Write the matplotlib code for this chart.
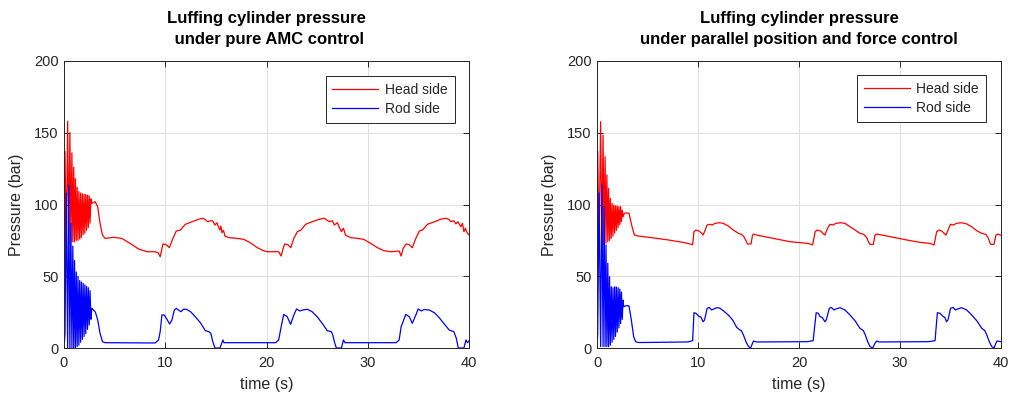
import matplotlib
matplotlib.use("Agg")
import matplotlib.pyplot as plt

plt.rcParams["font.family"] = ["Liberation Sans", "DejaVu Sans"]

# ---- Pure AMC control: head side (time s, pressure bar) ----
amc_head_startup = [
    (0.00, 0), (0.10, 137), (0.22, 70), (0.36, 158), (0.47, 72), (0.58, 150),
    (0.68, 74), (0.78, 136), (0.87, 74), (0.96, 126), (1.04, 74), (1.13, 118),
    (1.21, 75), (1.30, 112), (1.38, 75), (1.47, 109), (1.55, 76), (1.64, 108),
    (1.72, 77), (1.81, 107.5), (1.89, 79), (1.98, 107), (2.06, 80), (2.15, 107),
    (2.23, 82), (2.32, 106.5), (2.40, 84), (2.49, 106), (2.57, 87), (2.66, 104),
]
amc_head_run = [
    (2.74, 100.8), (3.07, 102), (3.33, 98.5), (3.56, 86.9), (3.80, 78.7), (4.06, 76.4),
    (4.90, 77.1), (5.70, 76.4), (6.53, 72.9), (7.36, 69), (8.20, 67.1), (9.00, 67.1),
    (9.30, 66.3), (9.50, 63.6), (9.77, 72.5), (10.1, 72), (10.4, 69.9), (10.76, 76.4),
    (11.09, 81.5), (11.5, 82.2), (11.98, 86.2), (12.64, 88), (13.3, 89.7), (13.7, 90.4),
    (13.9, 89.7), (14.2, 88), (14.5, 88.7), (14.7, 88.5), (14.9, 85.7), (15.1, 87.3),
    (15.25, 84.5), (15.4, 82.2), (15.5, 85), (15.6, 80.4), (15.75, 82), (15.9, 78),
    (16.3, 76.9), (17.1, 76.4), (17.75, 75.7), (18.4, 73.4), (19.1, 69.9), (19.7, 67.8),
    (20.07, 67.1), (20.7, 67.1), (21.2, 67.1), (21.45, 64.1), (21.65, 69.5), (21.8, 72.5),
    (22.1, 72), (22.4, 69.9), (22.7, 76.4), (23.04, 81), (23.4, 82.2), (23.86, 86.2),
    (24.5, 88), (25.2, 89.7), (25.7, 90.4), (25.9, 89.5), (26.2, 88), (26.5, 88.7),
    (26.7, 85.7), (27.0, 87.3), (27.2, 84), (27.4, 81), (27.6, 83.5), (27.8, 78.7),
    (28.3, 76.9), (29.0, 76.4), (29.6, 75.7), (30.3, 72.9), (30.96, 69.9), (31.6, 67.8),
    (32.3, 67.1), (33.1, 67.6), (33.3, 64.1), (33.5, 69.5), (33.8, 72.5), (34.1, 72),
    (34.4, 69.9), (34.75, 76.4), (35.1, 81.5), (35.4, 82.2), (35.9, 86.2), (36.6, 88),
    (37.2, 89.7), (37.7, 90.4), (38.0, 89.7), (38.2, 88), (38.5, 88.7), (38.7, 86.5),
    (38.9, 88), (39.2, 84.5), (39.35, 87), (39.5, 81), (39.65, 83.5), (39.8, 80.5),
    (40.0, 78.7),
]

# ---- Pure AMC control: rod side ----
amc_rod_startup = [
    (0.00, 0), (0.10, 10), (0.22, 108), (0.36, 0), (0.47, 113.6), (0.58, 0),
    (0.68, 87), (0.78, 0), (0.87, 71), (0.96, 0), (1.04, 61), (1.13, 0),
    (1.21, 53), (1.30, 1), (1.38, 50), (1.47, 2), (1.55, 47), (1.64, 4),
    (1.72, 46), (1.81, 6), (1.89, 45), (1.98, 8), (2.06, 44), (2.15, 10),
    (2.23, 43), (2.32, 13), (2.40, 42), (2.49, 16), (2.57, 40), (2.66, 20),
]
amc_rod_run = [
    (2.74, 27.7), (2.90, 26.5), (3.10, 25), (3.33, 19.5), (3.56, 10.2), (3.80, 4.4),
    (4.06, 3.7), (9.00, 3.5), (9.34, 5.6), (9.50, 11.4), (9.67, 23), (9.90, 23),
    (10.17, 20), (10.43, 16.7), (10.66, 19.5), (10.9, 26.5), (11.09, 27.6), (11.3, 26.5),
    (11.55, 25.3), (11.8, 27), (12.08, 27), (12.5, 25.3), (12.97, 21.8), (13.47, 17.6),
    (13.96, 12.1), (14.3, 11.4), (14.5, 10.2), (14.7, 4.4), (14.9, 0), (15.4, 0),
    (15.55, 2.8), (15.7, 5.6), (15.8, 3.7), (16.1, 3.7), (20.9, 3.7), (21.2, 5.6),
    (21.45, 14.9), (21.7, 23.4), (22.05, 21.8), (22.38, 16.5), (22.7, 23), (22.97, 27.2),
    (23.3, 25.8), (23.6, 26.5), (24.03, 27), (24.5, 25.3), (25.0, 21.8), (25.5, 17.2),
    (26.0, 12.1), (26.4, 11.4), (26.55, 9), (26.7, 4.4), (26.9, 0), (27.4, 0),
    (27.6, 5.6), (27.75, 3.7), (32.8, 3.7), (33.1, 5.6), (33.3, 14.9), (33.76, 23.4),
    (34.1, 21.8), (34.4, 17.2), (34.75, 23), (34.98, 27.2), (35.3, 25.8), (35.55, 26.8),
    (36.07, 26.5), (36.6, 24.5), (37.06, 21.1), (37.56, 16.7), (38.05, 12.5), (38.5, 11.4),
    (38.75, 6.7), (38.94, 0), (39.5, 0), (39.7, 5.6), (39.85, 3.7), (40.0, 5),
]

# ---- Parallel position and force control: head side ----
ppf_head_startup = [
    (0.00, 0), (0.07, 137), (0.20, 70), (0.36, 157.7), (0.48, 71.8), (0.60, 148.4),
    (0.70, 72), (0.80, 133.3), (0.89, 73), (0.98, 120.6), (1.07, 74), (1.15, 111.3),
    (1.24, 75), (1.32, 104.3), (1.41, 76.4), (1.49, 100.8), (1.58, 78), (1.66, 99.7),
    (1.75, 80), (1.83, 99), (1.92, 82), (2.00, 99), (2.09, 84), (2.17, 98.5),
    (2.26, 86), (2.34, 98.5), (2.42, 88), (2.50, 96), (2.58, 91.5),
]
ppf_head_run = [
    (2.70, 93.9), (2.93, 94.1), (3.17, 93.9), (3.43, 85.7), (3.70, 78.7), (4.10, 78),
    (5.40, 76.9), (7.06, 75.3), (8.70, 73.4), (9.20, 72.5), (9.47, 72), (9.60, 81),
    (9.80, 82.2), (10.1, 81.5), (10.37, 79.9), (10.5, 78.7), (10.7, 82), (10.9, 85.7),
    (11.2, 86.2), (11.4, 85.7), (11.7, 86.9), (12.1, 87.3), (12.5, 86.9), (13.0, 85),
    (13.5, 82.2), (14.0, 79.9), (14.3, 79.2), (14.55, 77.5), (14.75, 74.8), (14.9, 72.5),
    (15.25, 72.5), (15.4, 78.7), (15.5, 79.4), (15.8, 78.7), (17.46, 76.4), (19.1, 74.1),
    (20.1, 73.4), (20.9, 72.9), (21.35, 71.8), (21.6, 81), (21.8, 82.2), (22.15, 81.5),
    (22.35, 80), (22.57, 78.7), (22.8, 83), (23.07, 86.2), (23.35, 85.7), (23.66, 86.9),
    (24.13, 87.3), (24.55, 86.9), (25.05, 84.5), (25.55, 82.2), (26.04, 79.9), (26.4, 79.2),
    (26.7, 77), (26.87, 74.1), (27.03, 72.2), (27.36, 72.2), (27.52, 78.7), (27.7, 79.4),
    (29.0, 77.6), (30.66, 75.3), (31.98, 73.6), (32.97, 72.9), (33.37, 71.8), (33.63, 81),
    (33.87, 82.2), (34.15, 81.5), (34.35, 80), (34.55, 78.7), (34.8, 83), (35.0, 86.2),
    (35.3, 85.7), (35.6, 86.9), (36.1, 87.3), (36.6, 86.5), (37.1, 84.5), (37.6, 81.7),
    (38.1, 79.9), (38.5, 79.2), (38.75, 76.5), (38.9, 73.4), (39.0, 72.2), (39.3, 72.2),
    (39.5, 78.7), (39.7, 79.4), (40.0, 78.5),
]

# ---- Parallel position and force control: rod side ----
ppf_rod_startup = [
    (0.00, 0), (0.07, 10), (0.20, 108), (0.36, 1), (0.48, 113.6), (0.60, 1),
    (0.70, 98.5), (0.80, 1), (0.89, 71.8), (0.98, 1), (1.07, 59), (1.15, 1),
    (1.24, 49.7), (1.32, 2), (1.41, 42.7), (1.49, 4), (1.58, 42), (1.66, 6),
    (1.75, 42.7), (1.83, 8), (1.92, 42.5), (2.00, 11), (2.09, 42), (2.17, 14),
    (2.26, 41), (2.34, 17), (2.42, 39), (2.50, 20), (2.58, 33.4),
]
ppf_rod_run = [
    (2.64, 28.8), (2.90, 29.5), (3.17, 29.3), (3.40, 19.5), (3.63, 7.9), (3.83, 4.4),
    (4.10, 3.8), (9.00, 4.2), (9.47, 5.1), (9.60, 24.6), (9.80, 24.2), (10.13, 21.8),
    (10.3, 21.5), (10.5, 18.3), (10.65, 19.5), (10.9, 27.6), (11.1, 28.3), (11.35, 26.5),
    (11.6, 27.3), (11.85, 28.1), (12.15, 27.8), (12.5, 26), (13.0, 23), (13.43, 19.5),
    (13.83, 14.4), (14.16, 12.5), (14.3, 12), (14.5, 9), (14.75, 4.4), (15.0, 1),
    (15.2, 0), (15.4, 3.3), (15.5, 4.9), (15.8, 4.2), (20.8, 4.4), (21.4, 5.1),
    (21.7, 24.6), (21.9, 24.2), (22.1, 21.8), (22.3, 21.3), (22.57, 18.3), (22.7, 19.5),
    (23.0, 27.6), (23.2, 28.3), (23.46, 26.5), (23.7, 27.3), (24.06, 28.1), (24.55, 26.5),
    (25.05, 23), (25.55, 19), (26.04, 13.7), (26.37, 12.1), (26.57, 9), (26.8, 4.4),
    (27.03, 1), (27.3, 0), (27.52, 3.3), (27.7, 4.9), (27.9, 4.2), (32.8, 4.4),
    (33.47, 5.1), (33.7, 24.6), (33.95, 24.2), (34.3, 21.8), (34.45, 21.3), (34.6, 18.3),
    (34.75, 19.5), (35.0, 27.6), (35.25, 28.3), (35.5, 26.5), (35.75, 27.3), (36.1, 28.1),
    (36.6, 26.5), (37.1, 23), (37.6, 19), (38.1, 13.7), (38.4, 12.1), (38.6, 9),
    (38.84, 4.4), (39.08, 1), (39.3, 0), (39.5, 3.3), (39.6, 4.9), (40.0, 4.4),
]

titles = [
    "Luffing cylinder pressure\n under pure AMC control",
    "Luffing cylinder pressure\nunder parallel position and force control",
]
series_labels = ["Head side", "Rod side"]
x_ticks = [0, 10, 20, 30, 40]
y_ticks = [0, 50, 100, 150, 200]

INK = "#262626"
GRID = "#dfdfdf"


def unzip(points):
    return [p[0] for p in points], [p[1] for p in points]


fig = plt.figure(figsize=(10.11, 4.05), dpi=100)
W, H = 1011, 405
ax_left = fig.add_axes([64 / W, 1 - 348 / H, 405 / W, 287 / H])
ax_right = fig.add_axes([597 / W, 1 - 348 / H, 404 / W, 287 / H])

panels = [
    (ax_left, amc_head_startup + amc_head_run, amc_rod_startup + amc_rod_run,
     titles[0], (0.965, 0.948)),
    (ax_right, ppf_head_startup + ppf_head_run, ppf_rod_startup + ppf_rod_run,
     titles[1], (0.963, 0.951)),
]

for ax, head, rod, title, legend_anchor in panels:
    ht, hp = unzip(head)
    rt, rp = unzip(rod)
    ax.plot(ht, hp, color=(1, 0, 0), lw=0.9, label=series_labels[0])
    ax.plot(rt, rp, color=(0, 0, 1), lw=0.9, label=series_labels[1])

    ax.set_xlim(0, 40)
    ax.set_ylim(0, 200)
    ax.set_xticks(x_ticks)
    ax.set_yticks(y_ticks)
    ax.grid(True, color=GRID, lw=0.7)
    ax.set_axisbelow(True)
    for sp in ax.spines.values():
        sp.set_color(INK)
        sp.set_linewidth(0.7)
    ax.tick_params(direction="in", top=True, right=True, length=4, width=0.7,
                   colors=INK, labelsize=10.5)
    ax.tick_params(axis="x", pad=6)
    ax.tick_params(axis="y", pad=4)

    ax.set_xlabel("time (s)", fontsize=11.5, color=INK, labelpad=5)
    ax.set_ylabel("Pressure (bar)", fontsize=11.5, color=INK, labelpad=7)
    ax.set_title(title, fontsize=12, fontweight="bold", color="black", pad=12,
                 linespacing=1.5)

    leg = ax.legend(loc="upper right", bbox_to_anchor=legend_anchor,
                    borderaxespad=0, fontsize=10, handlelength=3.3,
                    handletextpad=0.5, borderpad=0.5, labelspacing=0.35,
                    fancybox=False, framealpha=1, edgecolor=INK)
    leg.get_frame().set_linewidth(0.7)
    for txt in leg.get_texts():
        txt.set_color(INK)

fig.savefig("out.png", dpi=100)
